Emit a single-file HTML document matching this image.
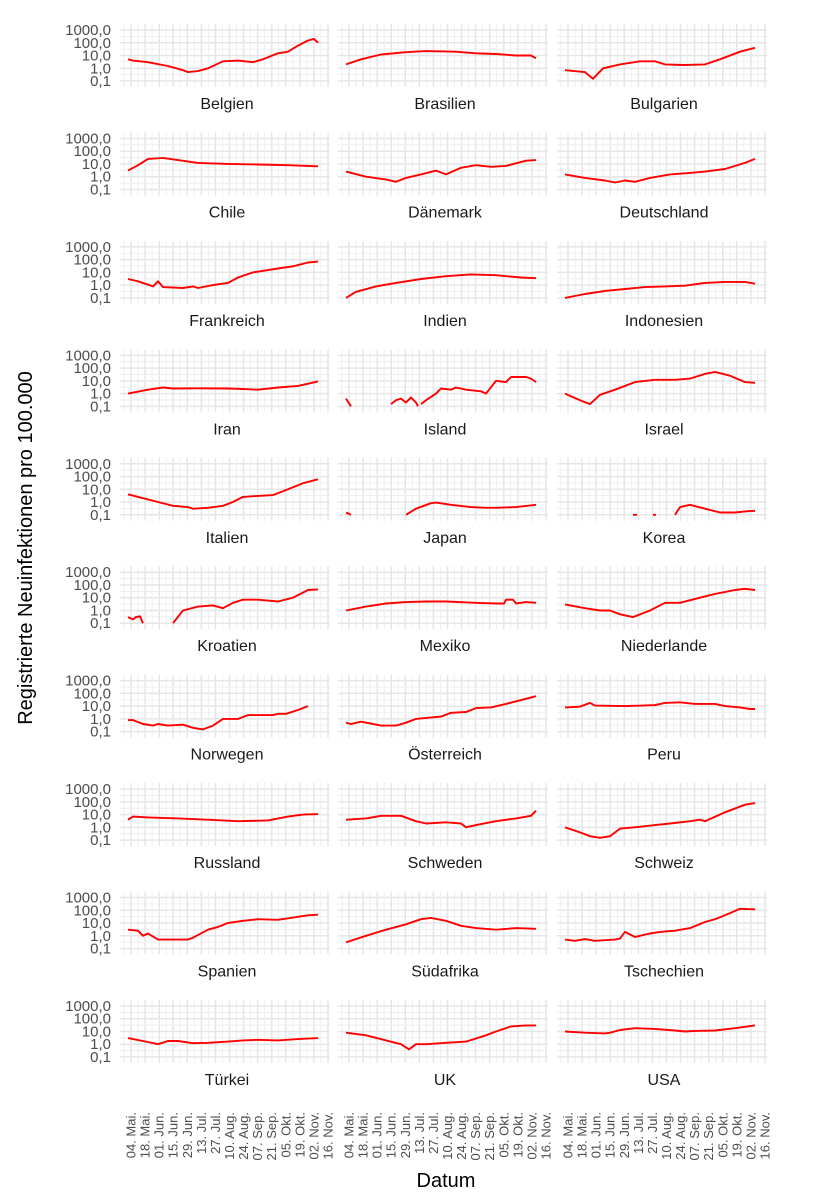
<!DOCTYPE html>
<html><head><meta charset="utf-8">
<style>
html,body{margin:0;padding:0;background:#fff;}
svg{display:block;font-family:"Liberation Sans",sans-serif;}
</style></head>
<body>
<svg id="chart" width="818" height="1200" viewBox="0 0 818 1200">
<text x="32" y="548" transform="rotate(-90 32 548)" text-anchor="middle" font-size="20" fill="#000">Registrierte Neuinfektionen pro 100.000</text>
<text x="446" y="1187" text-anchor="middle" font-size="20" fill="#000">Datum</text>
</svg>
<script>
// Data: [day (x-axis unit, 0 = start of series), cases per 100,000]; null = gap
const countries = ["Belgien","Brasilien","Bulgarien","Chile","Dänemark","Deutschland","Frankreich","Indien","Indonesien","Iran","Island","Israel","Italien","Japan","Korea","Kroatien","Mexiko","Niederlande","Norwegen","Österreich","Peru","Russland","Schweden","Schweiz","Spanien","Südafrika","Tschechien","Türkei","UK","USA"];
const seriesBelgien = [[0,5],[5,4],[20,3],[40,1.5],[55,0.7],[60,0.5],[70,0.6],[80,1],[95,3.5],[110,4],[125,3],[135,5],[150,15],[160,20],[170,60],[180,150],[186,200],[190,100]];
const seriesBrasilien = [[0,2],[15,5],[35,12],[60,18],[80,22],[110,20],[130,15],[150,13],[170,10],[185,10],[190,6]];
const seriesBulgarien = [[0,0.7],[20,0.5],[28,0.15],[38,1],[55,2],[75,3.5],[90,3.5],[100,2],[120,1.8],[140,2],[155,5],[175,20],[190,40]];
const seriesChile = [[0,3],[10,8],[20,25],[35,30],[50,20],[70,12],[100,10],[130,9],[160,8],[190,6.5]];
const seriesDaenemark = [[0,2.5],[20,1],[40,0.6],[50,0.4],[60,0.8],[75,1.5],[90,3],[100,1.5],[115,5],[130,8],[145,6],[160,7],[180,18],[190,20]];
const seriesDeutschland = [[0,1.5],[20,0.8],[40,0.5],[50,0.35],[60,0.5],[70,0.4],[85,0.8],[105,1.5],[125,2],[140,2.5],[160,4],[180,12],[190,25]];
const seriesFrankreich = [[0,3],[10,2],[25,0.8],[30,2],[35,0.7],[55,0.6],[65,0.8],[70,0.6],[85,1],[100,1.5],[110,4],[125,10],[140,15],[150,20],[165,30],[180,60],[190,70]];
const seriesIndien = [[0,0.1],[10,0.3],[30,0.8],[50,1.5],[75,3],[100,5],[125,7],[150,6],[175,4],[190,3.5]];
const seriesIndonesien = [[0,0.1],[20,0.2],[40,0.35],[60,0.5],[80,0.7],[100,0.8],[120,0.9],[140,1.5],[160,1.8],[180,1.8],[190,1.3]];
const seriesIran = [[0,1],[20,2],[35,3],[45,2.5],[70,2.6],[100,2.5],[120,2.2],[130,2],[150,3],[170,4],[190,9]];
const seriesIsland = [[0,0.4],[5,0.1],null,[45,0.15],[50,0.3],[55,0.4],[60,0.2],[65,0.5],[70,0.2],[72,0.1],null,[75,0.15],[80,0.3],[90,1],[95,2.5],[105,2],[110,3],[120,2],[135,1.5],[140,1],[150,10],[160,8],[165,20],[180,20],[185,15],[190,8]];
const seriesIsrael = [[0,1],[15,0.3],[25,0.15],[35,0.8],[50,2],[70,8],[90,12],[110,12],[125,15],[140,35],[150,50],[165,25],[180,8],[190,7]];
const seriesItalien = [[0,4],[15,2],[30,1],[45,0.5],[60,0.4],[65,0.3],[80,0.35],[95,0.5],[105,1],[115,2.5],[130,3],[145,3.5],[160,10],[175,30],[190,60]];
const seriesJapan = [[0,0.15],[5,0.1],null,[60,0.1],[70,0.3],[85,0.8],[90,0.9],[105,0.6],[125,0.4],[140,0.35],[150,0.35],[170,0.4],[190,0.6]];
const seriesKorea = [[68,0.1],[72,0.1],null,[88,0.1],[91,0.1],null,[110,0.1],[115,0.4],[125,0.6],[140,0.3],[155,0.15],[170,0.15],[185,0.2],[190,0.2]];
const seriesKroatien = [[0,0.3],[5,0.2],[8,0.3],[12,0.35],[15,0.1],null,[45,0.1],[55,1],[70,2],[85,2.5],[95,1.5],[105,4],[115,7],[130,7],[150,5],[165,10],[180,40],[190,45]];
const seriesMexiko = [[0,1],[20,2],[40,3.5],[60,4.5],[80,5],[100,5],[130,4],[150,3.5],[158,3.5],[160,7],[167,7],[170,3.5],[180,4.5],[190,4]];
const seriesNiederlande = [[0,3],[20,1.5],[35,1],[45,1],[55,0.5],[68,0.3],[85,1],[100,4],[115,4],[135,10],[150,20],[170,40],[180,50],[190,40]];
const seriesNorwegen = [[0,0.8],[5,0.8],[15,0.4],[25,0.3],[30,0.4],[40,0.3],[55,0.35],[65,0.2],[75,0.15],[85,0.3],[95,1],[110,1],[120,2],[145,2],[150,2.5],[158,2.5],[170,5],[180,10]];
const seriesOesterreich = [[0,0.5],[5,0.4],[15,0.6],[35,0.3],[50,0.3],[60,0.5],[70,1],[80,1.2],[95,1.5],[105,3],[120,3.5],[130,7],[145,8],[160,15],[175,30],[190,60]];
const seriesPeru = [[0,8],[15,9],[25,18],[30,11],[60,10],[90,12],[100,18],[115,20],[130,15],[150,15],[160,10],[175,8],[185,6],[190,6]];
const seriesRussland = [[0,4],[5,7],[20,6],[50,5],[80,4],[110,3],[140,3.5],[160,7],[175,10],[190,11]];
const seriesSchweden = [[0,4],[20,5],[35,8],[55,8],[70,3],[80,2],[100,2.5],[115,2],[120,1],[130,1.5],[150,3],[170,5],[185,8],[190,20]];
const seriesSchweiz = [[0,1],[15,0.4],[25,0.2],[35,0.15],[45,0.2],[55,0.8],[70,1],[90,1.5],[105,2],[125,3],[135,4],[140,3],[160,15],[180,60],[190,80]];
const seriesSpanien = [[0,3],[10,2.5],[15,1],[20,1.5],[30,0.5],[60,0.5],[65,0.7],[80,3],[90,5],[100,10],[115,15],[130,20],[150,18],[180,40],[190,45]];
const seriesSuedafrika = [[0,0.3],[20,1],[40,3],[60,8],[75,20],[85,25],[100,15],[115,6],[130,4],[150,3],[170,4],[190,3.5]];
const seriesTschechien = [[0,0.5],[10,0.4],[20,0.55],[30,0.4],[50,0.5],[55,0.6],[60,2],[70,0.8],[85,1.5],[95,2],[110,2.5],[125,4],[140,12],[150,20],[165,60],[175,130],[190,120]];
const seriesTuerkei = [[0,3],[20,1.5],[30,1],[40,1.8],[50,1.8],[65,1.2],[80,1.3],[100,1.6],[115,2],[130,2.2],[150,2],[170,2.5],[190,3]];
const seriesUK = [[0,8],[20,5],[40,2],[55,1],[63,0.4],[70,1],[80,1],[100,1.3],[120,1.6],[140,5],[150,10],[165,25],[180,30],[190,30]];
const seriesUSA = [[0,10],[20,8],[40,7],[45,8],[55,13],[70,18],[90,16],[110,12],[120,10],[130,11],[150,12],[170,18],[190,30]];
const tickLabels = ["04. Mai.","18. Mai.","01. Jun.","15. Jun.","29. Jun.","13. Jul.","27. Jul.","10. Aug.","24. Aug.","07. Sep.","21. Sep.","05. Okt.","19. Okt.","02. Nov.","16. Nov."];
const tickDays = [3,17.07,31.14,45.21,59.28,73.35,87.42,101.49,115.56,129.63,143.7,157.77,171.84,185.91,199.98];
const yTicks = [0.1,1,10,100,1000];
const yTickLabels = ["0,1","1,0","10,0","100,0","1000,0"];

const allSeries = [seriesBelgien,seriesBrasilien,seriesBulgarien,seriesChile,seriesDaenemark,seriesDeutschland,seriesFrankreich,seriesIndien,seriesIndonesien,seriesIran,seriesIsland,seriesIsrael,seriesItalien,seriesJapan,seriesKorea,seriesKroatien,seriesMexiko,seriesNiederlande,seriesNorwegen,seriesOesterreich,seriesPeru,seriesRussland,seriesSchweden,seriesSchweiz,seriesSpanien,seriesSuedafrika,seriesTschechien,seriesTuerkei,seriesUK,seriesUSA];

const svg = document.getElementById('chart');
const NS = 'http://www.w3.org/2000/svg';
const colX = [120, 338, 557];
const panelW = 210;
const rowPitch = 108.44;
const halfStep = 7.035;
function xScale(col, d){ return colX[col] + 8 + d; }
function yScale(row, v){ return 81 + row*rowPitch - (Math.log10(v)+1)*12.75; }
function mk(tag, attrs){ const e = document.createElementNS(NS, tag); for (const k in attrs) e.setAttribute(k, attrs[k]); return e; }

const defs = mk('defs', {});
svg.appendChild(defs);

countries.forEach((name, i) => {
  const row = Math.floor(i/3), col = i%3;
  const top = 24 + row*rowPitch, bot = 87 + row*rowPitch;
  const g = mk('g', {});
  
  
  svg.appendChild(g);
  for (let k = 0; k < yTicks.length; k++) {
    const y = yScale(row, yTicks[k]*Math.sqrt(10));
    if (y > top && y < bot) g.appendChild(mk('line', {x1: colX[col], x2: colX[col]+panelW, y1: y, y2: y, stroke: '#ececec', 'stroke-width': 0.8}));
  }
  const my0 = yScale(row, 0.1/Math.sqrt(10));
  if (my0 < bot) g.appendChild(mk('line', {x1: colX[col], x2: colX[col]+panelW, y1: my0, y2: my0, stroke: '#ececec', 'stroke-width': 0.8}));
  for (let k = -1; k < tickDays.length; k++) {
    const d = k < 0 ? tickDays[0] - halfStep : tickDays[k] + halfStep;
    const x = xScale(col, d);
    if (x > colX[col] && x < colX[col]+panelW) g.appendChild(mk('line', {x1: x, x2: x, y1: top, y2: bot, stroke: '#ececec', 'stroke-width': 0.8}));
  }
  yTicks.forEach(v => { const y = yScale(row, v); g.appendChild(mk('line', {x1: colX[col], x2: colX[col]+panelW, y1: y, y2: y, stroke: '#e6e6e6', 'stroke-width': 1.5})); });
  tickDays.forEach(d => { const x = xScale(col, d); g.appendChild(mk('line', {x1: x, x2: x, y1: top, y2: bot, stroke: '#e6e6e6', 'stroke-width': 1.5})); });
  const cp = mk('clipPath', {id: 'clip' + i});
  cp.appendChild(mk('rect', {x: colX[col], y: top, width: panelW, height: bot-top}));
  defs.appendChild(cp);
  let d = '', pen = false;
  allSeries[i].forEach(p => {
    if (p === null) { pen = false; return; }
    d += (pen ? 'L' : 'M') + xScale(col, p[0]).toFixed(1) + ' ' + yScale(row, p[1]).toFixed(1);
    pen = true;
  });
  const path = mk('path', {d: d, fill: 'none', stroke: '#ff0000', 'stroke-width': 1.9, 'stroke-linejoin': 'round', 'clip-path': 'url(#clip' + i + ')'});
  
  
  g.appendChild(path);
  const t = mk('text', {x: colX[col] + panelW/2 + 2, y: 109 + row*rowPitch, 'text-anchor': 'middle', 'font-size': 16, fill: '#1a1a1a'});
  t.textContent = name;
  
  
  g.appendChild(t);
  if (col === 0) {
    yTicks.forEach((v, k) => {
      const lt = mk('text', {x: 111, y: yScale(row, v) + 5, 'text-anchor': 'end', 'font-size': 15, fill: '#4d4d4d'});
      lt.textContent = yTickLabels[k];
      
      
      svg.appendChild(lt);
    });
  }
});
for (let col = 0; col < 3; col++) {
  tickDays.forEach((dd, k) => {
    const x = xScale(col, dd) + 4.5, y = 1112;
    const t = mk('text', {x: x, y: y, transform: 'rotate(-90 ' + x + ' ' + y + ')', 'text-anchor': 'end', 'font-size': 13, fill: '#4d4d4d'});
    t.textContent = tickLabels[k];
    
    
    svg.appendChild(t);
  });
}
</script>
</body></html>
